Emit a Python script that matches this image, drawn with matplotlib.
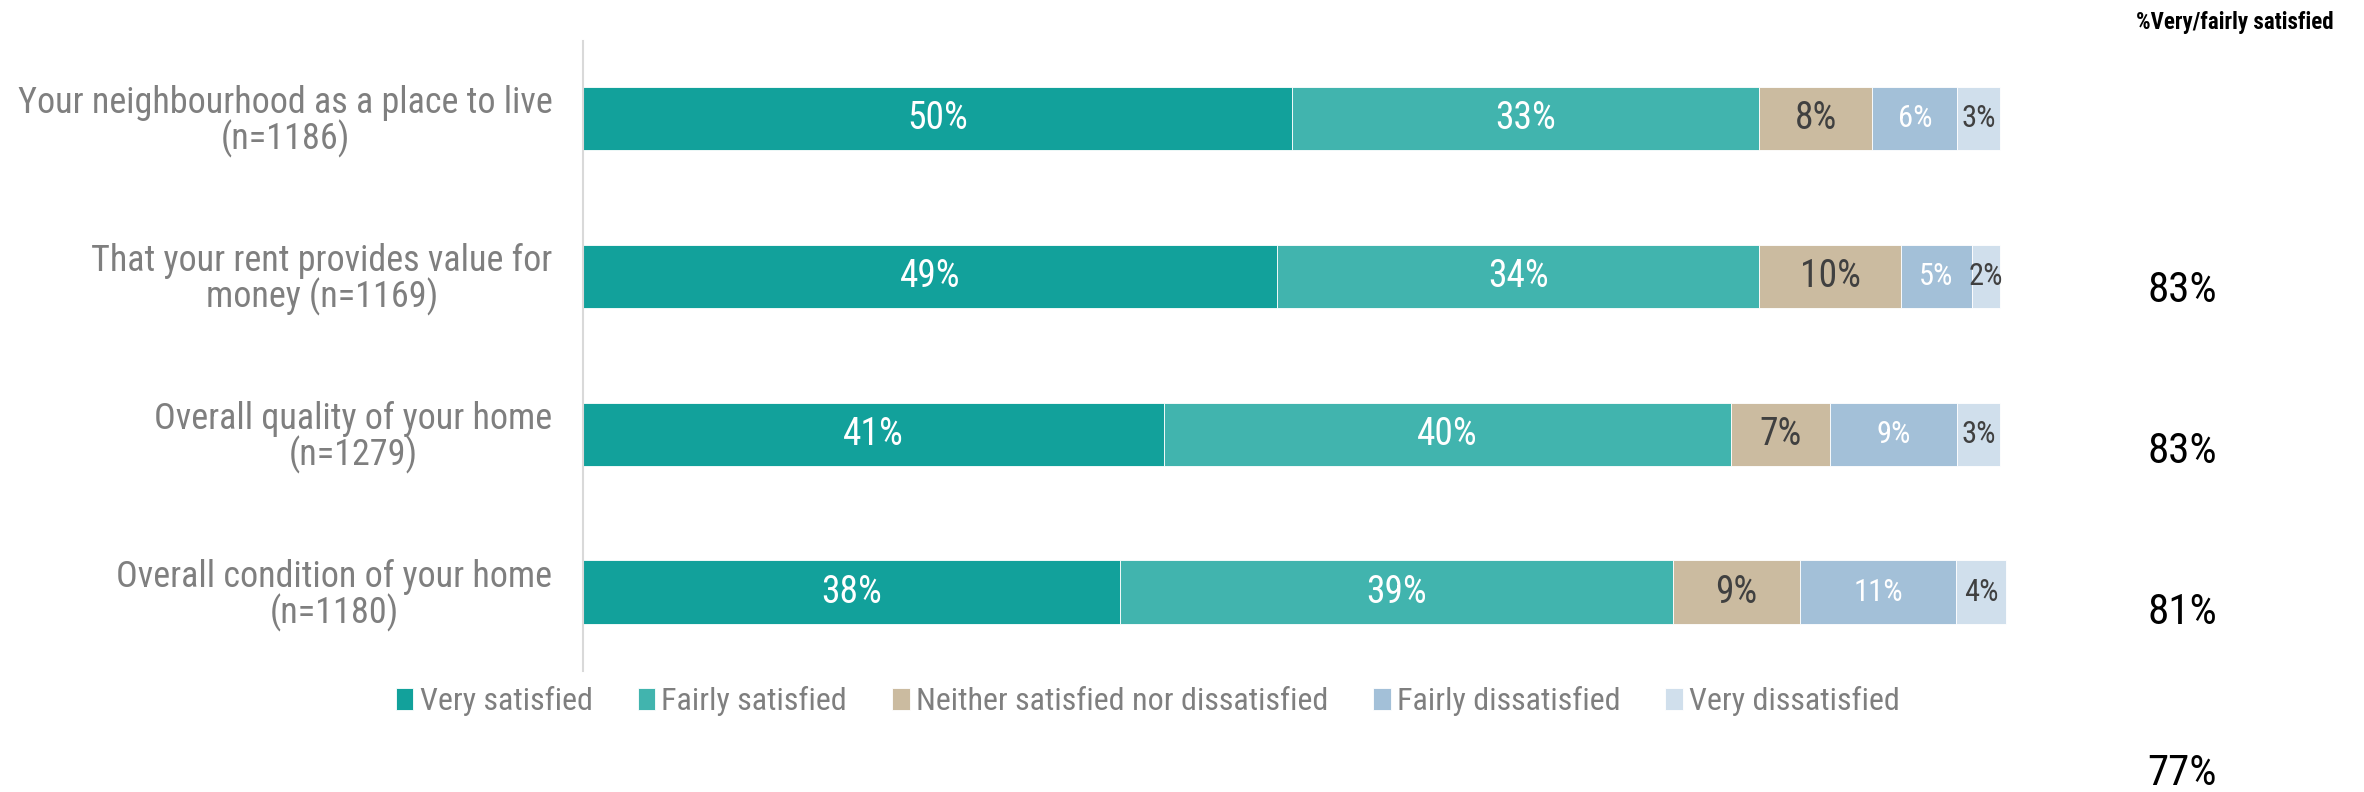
import matplotlib
matplotlib.use("Agg")
import matplotlib.pyplot as plt
import matplotlib.transforms as mtransforms
import numpy as np

categories = [
    "Your neighbourhood as a place to live\n(n=1186)",
    "That your rent provides value for\nmoney (n=1169)",
    "Overall quality of your home\n(n=1279)",
    "Overall condition of your home\n(n=1180)",
]
series_names = ["Very satisfied", "Fairly satisfied", "Neither satisfied nor dissatisfied",
                "Fairly dissatisfied", "Very dissatisfied"]
very_satisfied = [50, 49, 41, 37.9]
fairly_satisfied = [33, 34, 40, 39.0]
neither = [8, 10, 7, 9.0]
fairly_dissatisfied = [6, 5, 9, 11.0]
very_dissatisfied = [3, 2, 3, 3.5]
net_satisfied = [83, 83, 81, 77]
header_text = "%Very/fairly satisfied"

colors = ["#12A19B", "#41B4AE", "#CBBBA0", "#A3C0D8", "#D0DFEC"]
label_colors = ["white", "white", "#404040", "white", "#404040"]
label_sizes = [27, 27, 27, 22, 22]

FONT = ["Roboto Condensed", "Open Sans Condensed", "Asap Condensed", "Barlow Semi Condensed", "DejaVu Sans"]
plt.rcParams['font.family'] = FONT

fig = plt.figure(figsize=(23.64, 7.92), dpi=100)
ax = fig.add_axes([583/2364, 1-671/792, (2000-583)/2364, (671-41)/792])

series = [very_satisfied, fairly_satisfied, neither, fairly_dissatisfied, very_dissatisfied]
y = np.arange(len(categories))
left = np.zeros(len(categories))
for vals, name, col, lcol, lsz in zip(series, series_names, colors, label_colors, label_sizes):
    vals = np.array(vals, dtype=float)
    ax.barh(y, vals, left=left, height=0.4, color=col, edgecolor="white",
            linewidth=0.6, label=name, clip_on=False)
    for yi, l, v in zip(y, left, vals):
        ax.text(l + v/2, yi, f"{v:.0f}%", ha="center", va="center",
                color=lcol, fontsize=lsz)
    left += vals

ax.set_xlim(0, 100)
ax.set_ylim(3.5, -0.49)
ax.set_yticks(y)
ax.set_yticklabels(categories, fontsize=26, color="#7F7F7F", multialignment="center",
                   linespacing=0.95)
ax.tick_params(axis="y", length=0, pad=22)
ax.set_xticks([])
for s in ["top", "right", "bottom"]:
    ax.spines[s].set_visible(False)
ax.spines["left"].set_color("#D9D9D9")
ax.spines["left"].set_linewidth(1.5)

trans = mtransforms.blended_transform_factory(fig.transFigure, ax.transData)
for i, v in enumerate(net_satisfied):
    ax.text(2182/2364, 1.09 + i*1.02, f"{v}%", transform=trans, ha="center", va="center",
            fontsize=31, color="black", clip_on=False)
fig.text(2334/2364, 1-23/792, header_text, ha="right", va="center", fontsize=16.5,
         fontweight="bold", color="black")

leg = fig.legend(loc="center", bbox_to_anchor=(1148/2364, 1-701/792), ncol=5,
                 frameon=False, fontsize=23, handlelength=0.55, handleheight=0.7,
                 handletextpad=0.2, columnspacing=1.4)
for t in leg.get_texts():
    t.set_color("#7F7F7F")

fig.savefig("out.png", dpi=100)
